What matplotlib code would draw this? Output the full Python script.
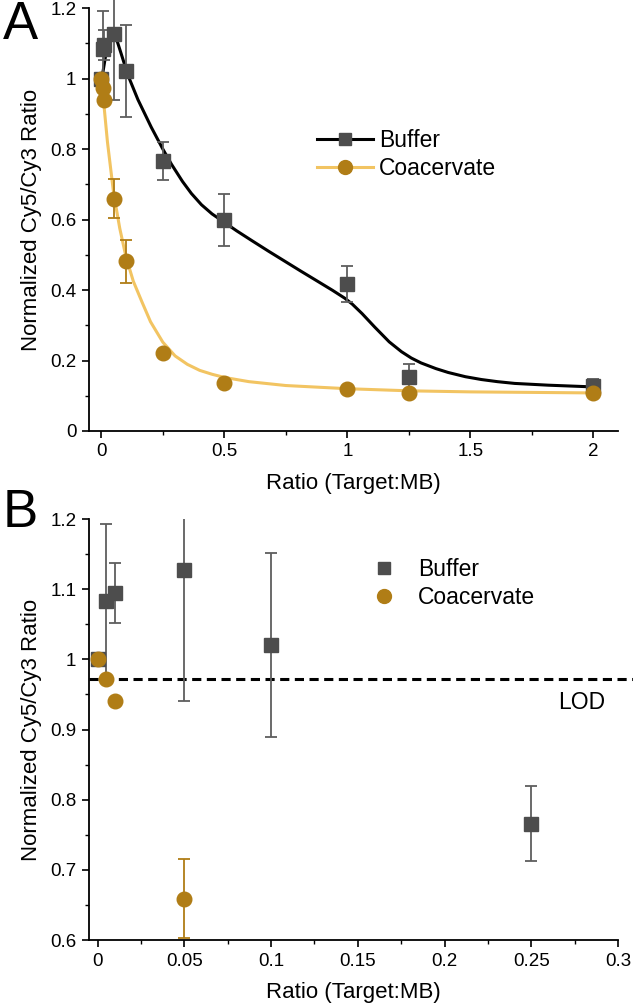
import numpy as np
import matplotlib
matplotlib.use('Agg')
import matplotlib.pyplot as plt
from matplotlib.ticker import MultipleLocator, FuncFormatter

plt.rcParams['font.family'] = ['Liberation Sans', 'DejaVu Sans']

# data
ratio = [0, 0.005, 0.01, 0.05, 0.1, 0.25, 0.5, 1.0, 1.25, 2.0]
buffer_val = [1.0, 1.083, 1.095, 1.127, 1.021, 0.766, 0.598, 0.417, 0.152, 0.128]
buffer_err = [0.0, 0.110, 0.043, 0.187, 0.131, 0.053, 0.074, 0.051, 0.039, 0.020]
coac_val = [1.0, 0.972, 0.940, 0.659, 0.481, 0.222, 0.136, 0.120, 0.108, 0.107]
coac_err = [0.0, 0.0, 0.0, 0.056, 0.061, 0.0, 0.0, 0.0, 0.0, 0.0]

# fitted curves
buffer_fit_x = [0.0, 0.007, 0.02, 0.035, 0.047, 0.065, 0.081, 0.108, 0.149, 0.203, 0.25,
                0.285, 0.33, 0.366, 0.407, 0.45, 0.5, 0.55, 0.61, 0.68, 0.745, 0.81,
                0.881, 0.94, 0.989, 1.02, 1.06, 1.111, 1.17, 1.22, 1.26, 1.30, 1.36,
                1.41, 1.48, 1.545, 1.61, 1.68, 1.816, 1.965, 2.0]
buffer_fit_y = [1.005, 1.02, 1.075, 1.11, 1.123, 1.105, 1.07, 1.01, 0.94, 0.862, 0.80,
                0.757, 0.708, 0.674, 0.642, 0.616, 0.592, 0.568, 0.541, 0.51, 0.482,
                0.454, 0.424, 0.399, 0.377, 0.36, 0.333, 0.295, 0.253, 0.225, 0.207,
                0.193, 0.177, 0.166, 0.154, 0.146, 0.140, 0.135, 0.130, 0.126, 0.125]
coac_fit_x = [0, 0.01, 0.025, 0.05, 0.075, 0.1, 0.13, 0.166, 0.2, 0.25, 0.3, 0.35, 0.4,
              0.45, 0.5, 0.6, 0.75, 1.0, 1.25, 1.5, 2.0]
coac_fit_y = [1.0, 0.93, 0.82, 0.675, 0.575, 0.495, 0.425, 0.365, 0.31, 0.252, 0.213,
              0.189, 0.172, 0.161, 0.152, 0.14, 0.129, 0.12, 0.114, 0.111, 0.108]
lod = 0.972

sq_color = '#4d4d4d'
err_gray = '#5e5e5e'
gold = '#b07d16'
gold_line = '#f2c462'
ylabel = 'Normalized Cy5/Cy3 Ratio'
xlabel = 'Ratio (Target:MB)'


def fmt(v, pos):
    return f'{v:.2f}'.rstrip('0').rstrip('.')


def style_axes(ax):
    for side in ['top', 'right']:
        ax.spines[side].set_visible(False)
    for side in ['left', 'bottom']:
        ax.spines[side].set_linewidth(1.3)
    ax.tick_params(which='major', direction='out', length=5, width=1.2, labelsize=13.5, pad=4)
    ax.tick_params(which='minor', direction='out', length=3, width=1.0)
    ax.xaxis.set_major_formatter(FuncFormatter(fmt))
    ax.yaxis.set_major_formatter(FuncFormatter(fmt))
    ax.set_xlabel(xlabel, fontsize=16, labelpad=9)
    ax.set_ylabel(ylabel, fontsize=16, labelpad=6)


fig = plt.figure(figsize=(6.33, 10.07), dpi=100)

# panel A
axA = fig.add_axes([0.1406, 0.572, 0.8357, 0.420])
axA.plot(buffer_fit_x, buffer_fit_y, color='black', lw=2.2, zorder=2)
axA.plot(coac_fit_x, coac_fit_y, color=gold_line, lw=2.2, zorder=2)
axA.errorbar(ratio, buffer_val, yerr=buffer_err, fmt='none', ecolor=err_gray,
             elinewidth=1.3, capsize=4, capthick=1.3, zorder=3, clip_on=False)
axA.errorbar(ratio, coac_val, yerr=coac_err, fmt='none', ecolor=gold,
             elinewidth=1.3, capsize=4, capthick=1.3, zorder=3, clip_on=False)
axA.plot(ratio, buffer_val, 's', color=sq_color, ms=10, zorder=4, clip_on=False)
axA.plot(ratio, coac_val, 'o', color=gold, ms=10.5, zorder=5, clip_on=False)
hA1, = axA.plot([], [], '-s', color='black', mfc=sq_color, mec=sq_color, ms=9, lw=2.2)
hA2, = axA.plot([], [], '-o', color=gold_line, mfc=gold, mec=gold, ms=10, lw=2.2)
axA.legend([hA1, hA2], ['Buffer', 'Coacervate'], loc='upper left',
           bbox_to_anchor=(0.414, 0.735), frameon=False, fontsize=16.5,
           handlelength=2.45, handletextpad=0.25, labelspacing=0.2, borderaxespad=0)
axA.set_xlim(-0.05, 2.1)
axA.set_ylim(0, 1.2)
axA.xaxis.set_major_locator(MultipleLocator(0.5))
axA.xaxis.set_minor_locator(MultipleLocator(0.25))
axA.yaxis.set_major_locator(MultipleLocator(0.2))
axA.yaxis.set_minor_locator(MultipleLocator(0.1))
style_axes(axA)
fig.text(0.004, 0.975, 'A', fontsize=38, va='center', ha='left')

# panel B
axB = fig.add_axes([0.1406, 0.0665, 0.8357, 0.4181])
axB.errorbar(ratio, buffer_val, yerr=buffer_err, fmt='none', ecolor=err_gray,
             elinewidth=1.3, capsize=4, capthick=1.3, zorder=3)
axB.errorbar(ratio, coac_val, yerr=coac_err, fmt='none', ecolor=gold,
             elinewidth=1.3, capsize=4, capthick=1.3, zorder=3)
axB.plot(ratio, buffer_val, 's', color=sq_color, ms=10, zorder=4)
axB.plot(ratio, coac_val, 'o', color=gold, ms=10.5, zorder=5)
axB.axhline(lod, xmin=0, xmax=1.03, color='black', lw=2.2, ls=(0, (3.0, 1.8)),
            clip_on=False, zorder=2)
axB.text(0.887, lod - 0.033, 'LOD', transform=axB.get_yaxis_transform(),
         fontsize=16.5, ha='left', va='center')
hB1, = axB.plot([], [], 's', color=sq_color, ms=9)
hB2, = axB.plot([], [], 'o', color=gold, ms=10)
axB.legend([hB1, hB2], ['Buffer', 'Coacervate'], loc='upper left',
           bbox_to_anchor=(0.52, 0.928), frameon=False, fontsize=16.5,
           handlelength=0.9, handletextpad=1.05, labelspacing=0.2, borderaxespad=0)
axB.set_xlim(-0.005, 0.3)
axB.set_ylim(0.6, 1.2)
axB.xaxis.set_major_locator(MultipleLocator(0.05))
axB.xaxis.set_minor_locator(MultipleLocator(0.025))
axB.yaxis.set_major_locator(MultipleLocator(0.1))
axB.yaxis.set_minor_locator(MultipleLocator(0.05))
style_axes(axB)
fig.text(0.004, 0.491, 'B', fontsize=38, va='center', ha='left')

fig.savefig('out.png', dpi=100)
